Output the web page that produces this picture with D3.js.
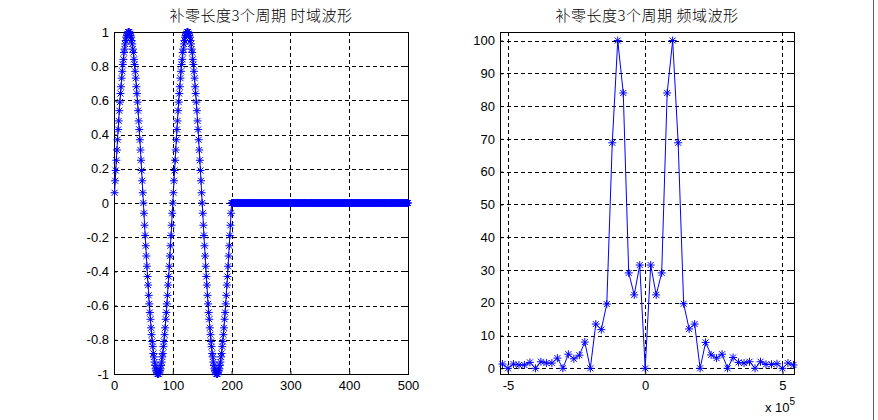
<!DOCTYPE html>
<html><head><meta charset="utf-8">
<script src="https://cdn.jsdelivr.net/npm/d3@7"></script>
<style>
html,body{margin:0;padding:0;background:#fff;}
svg{display:block;}
text{font-family:"Liberation Sans",Arial,sans-serif;font-size:13px;fill:#000;}
.title{font-family:"Noto Sans CJK SC",sans-serif;font-size:15px;letter-spacing:0.5px;font-weight:300;}
</style></head>
<body>
<script>
// ---------- data ----------
const titleLeft = "补零长度3个周期 时域波形";
const titleRight = "补零长度3个周期 频域波形";

// time-domain samples n = 1..500
const timeIndex = d3.range(1, 501);
const timeValues = [
 0.06,0.13,0.19,0.25,0.31,0.37,0.43,0.48,0.54,0.59,0.64,0.68,0.73,0.77,0.81,0.84,0.88,0.90,0.93,0.95,0.97,0.98,0.99,1.00,1.00,
 1.00,0.99,0.98,0.97,0.95,0.93,0.90,0.88,0.84,0.81,0.77,0.73,0.68,0.64,0.59,0.54,0.48,0.43,0.37,0.31,0.25,0.19,0.13,0.06,0,
 -0.06,-0.13,-0.19,-0.25,-0.31,-0.37,-0.43,-0.48,-0.54,-0.59,-0.64,-0.68,-0.73,-0.77,-0.81,-0.84,-0.88,-0.90,-0.93,-0.95,-0.97,-0.98,-0.99,-1.00,-1.00,
 -1.00,-0.99,-0.98,-0.97,-0.95,-0.93,-0.90,-0.88,-0.84,-0.81,-0.77,-0.73,-0.68,-0.64,-0.59,-0.54,-0.48,-0.43,-0.37,-0.31,-0.25,-0.19,-0.13,-0.06,0,
 0.06,0.13,0.19,0.25,0.31,0.37,0.43,0.48,0.54,0.59,0.64,0.68,0.73,0.77,0.81,0.84,0.88,0.90,0.93,0.95,0.97,0.98,0.99,1.00,1.00,
 1.00,0.99,0.98,0.97,0.95,0.93,0.90,0.88,0.84,0.81,0.77,0.73,0.68,0.64,0.59,0.54,0.48,0.43,0.37,0.31,0.25,0.19,0.13,0.06,0,
 -0.06,-0.13,-0.19,-0.25,-0.31,-0.37,-0.43,-0.48,-0.54,-0.59,-0.64,-0.68,-0.73,-0.77,-0.81,-0.84,-0.88,-0.90,-0.93,-0.95,-0.97,-0.98,-0.99,-1.00,-1.00,
 -1.00,-0.99,-0.98,-0.97,-0.95,-0.93,-0.90,-0.88,-0.84,-0.81,-0.77,-0.73,-0.68,-0.64,-0.59,-0.54,-0.48,-0.43,-0.37,-0.31,-0.25,-0.19,-0.13,-0.06,0,
 0,0,0,0,0,0,0,0,0,0,0,0,0,0,0,0,0,0,0,0,0,0,0,0,0,0,0,0,0,0,
 0,0,0,0,0,0,0,0,0,0,0,0,0,0,0,0,0,0,0,0,0,0,0,0,0,0,0,0,0,0,
 0,0,0,0,0,0,0,0,0,0,0,0,0,0,0,0,0,0,0,0,0,0,0,0,0,0,0,0,0,0,
 0,0,0,0,0,0,0,0,0,0,0,0,0,0,0,0,0,0,0,0,0,0,0,0,0,0,0,0,0,0,
 0,0,0,0,0,0,0,0,0,0,0,0,0,0,0,0,0,0,0,0,0,0,0,0,0,0,0,0,0,0,
 0,0,0,0,0,0,0,0,0,0,0,0,0,0,0,0,0,0,0,0,0,0,0,0,0,0,0,0,0,0,
 0,0,0,0,0,0,0,0,0,0,0,0,0,0,0,0,0,0,0,0,0,0,0,0,0,0,0,0,0,0,
 0,0,0,0,0,0,0,0,0,0,0,0,0,0,0,0,0,0,0,0,0,0,0,0,0,0,0,0,0,0,
 0,0,0,0,0,0,0,0,0,0,0,0,0,0,0,0,0,0,0,0,0,0,0,0,0,0,0,0,0,0,
 0,0,0,0,0,0,0,0,0,0,0,0,0,0,0,0,0,0,0,0,0,0,0,0,0,0,0,0,0,0
];
const timeXTicks = [0, 100, 200, 300, 400, 500];
const timeYTicks = [-1, -0.8, -0.6, -0.4, -0.2, 0, 0.2, 0.4, 0.6, 0.8, 1];

// frequency axis in units of 1e5 Hz
const freqValues = [
 -5.2,-5.0,-4.8,-4.6,-4.4,-4.2,-4.0,-3.8,-3.6,-3.4,-3.2,-3.0,-2.8,-2.6,-2.4,-2.2,-2.0,-1.8,-1.6,-1.4,-1.2,-1.0,-0.8,-0.6,-0.4,-0.2,
 0,
 0.2,0.4,0.6,0.8,1.0,1.2,1.4,1.6,1.8,2.0,2.2,2.4,2.6,2.8,3.0,3.2,3.4,3.6,3.8,4.0,4.2,4.4,4.6,4.8,5.0,5.2,5.4
];
const magValues = [
 1.3,0,1.3,1.0,1.0,1.8,0,2.0,1.6,1.6,3.1,0,4.3,2.9,4.0,8.0,0,13.5,11.8,19.6,68.8,100,84.0,29.1,22.4,31.5,
 0,
 31.5,22.4,29.1,84.0,100,68.8,19.7,12.0,13.5,0,7.9,4.1,3.1,4.3,0,3.3,1.8,1.6,2.0,0,2.0,1.2,1.2,1.4,0,1.6,1.0
];
const freqXTicks = [-5, 0, 5];
const freqYTicks = [0, 10, 20, 30, 40, 50, 60, 70, 80, 90, 100];

// ---------- drawing ----------
const W = 878, H = 420;
const svg = d3.select("body").append("svg").attr("width", W).attr("height", H);
svg.append("rect").attr("width", W).attr("height", H).attr("fill", "#fff");

const BLUE = "#0000ff";
const starPath = "M-4,0H4M0,-4V4M-3,-3L3,3M-3,3L3,-3";

function panel(cfg) {
  const g = svg.append("g");
  const x = d3.scaleLinear().domain(cfg.xDomain).range([cfg.left, cfg.right]);
  const y = d3.scaleLinear().domain(cfg.yDomain).range([cfg.bottom, cfg.top]);
  const crisp = v => Math.round(v) + 0.5;

  // grid
  const grid = g.append("g").attr("stroke", "#000").attr("stroke-width", 1).attr("stroke-dasharray", "4,3");
  cfg.xTicks.forEach(t => {
    const px = crisp(x(t));
    if (px > cfg.left + 1 && px < cfg.right - 1)
      grid.append("line").attr("x1", px).attr("x2", px).attr("y1", cfg.top).attr("y2", cfg.bottom);
  });
  cfg.yTicks.forEach(t => {
    const py = crisp(y(t));
    if (py > cfg.top + 1 && py < cfg.bottom - 1)
      grid.append("line").attr("y1", py).attr("y2", py).attr("x1", cfg.left).attr("x2", cfg.right);
  });

  // axes via d3 axis (ticks inward), plus box
  const xAxis = d3.axisBottom(x).tickValues(cfg.xTicks).tickSize(-3).tickPadding(10).tickFormat(cfg.xFmt);
  const yAxis = d3.axisLeft(y).tickValues(cfg.yTicks).tickSize(-3).tickPadding(5).tickFormat(cfg.yFmt);
  const xa = g.append("g").attr("transform", `translate(0,${crisp(cfg.bottom)-0.5})`).call(xAxis);
  const ya = g.append("g").attr("transform", `translate(${crisp(cfg.left)-0.5},0)`).call(yAxis);
  [xa, ya].forEach(a => {
    a.select(".domain").remove();
    a.selectAll("line").attr("stroke", "#000");
    a.selectAll("text").attr("fill", "#000").style("font-family", '"Liberation Sans",Arial,sans-serif').style("font-size", "13px");
  });
  xa.selectAll("text").attr("dy", "0.71em").attr("y", 7);
  // top/right inward ticks
  cfg.xTicks.forEach(t => g.append("line").attr("x1", crisp(x(t))).attr("x2", crisp(x(t)))
    .attr("y1", cfg.top).attr("y2", cfg.top + 3).attr("stroke", "#000"));
  cfg.yTicks.forEach(t => g.append("line").attr("y1", crisp(y(t))).attr("y2", crisp(y(t)))
    .attr("x1", cfg.right).attr("x2", cfg.right - 3).attr("stroke", "#000"));

  g.append("rect")
    .attr("x", crisp(cfg.left)).attr("y", crisp(cfg.top))
    .attr("width", Math.round(cfg.right) - Math.round(cfg.left))
    .attr("height", Math.round(cfg.bottom) - Math.round(cfg.top))
    .attr("fill", "none").attr("stroke", "#000");

  // data line
  const pts = cfg.xs.map((v, i) => [v, cfg.ys[i]]);
  g.append("path").datum(pts)
    .attr("d", d3.line().x(d => x(d[0])).y(d => y(d[1])))
    .attr("fill", "none").attr("stroke", BLUE).attr("stroke-width", 1);
  g.append("g").selectAll("path").data(pts).join("path")
    .attr("d", starPath)
    .attr("transform", d => `translate(${x(d[0]).toFixed(2)},${y(d[1]).toFixed(2)})`)
    .attr("fill", "none").attr("stroke", BLUE).attr("stroke-width", 1);

  // title
  g.append("text").attr("class", "title")
    .attr("x", (cfg.left + cfg.right) / 2).attr("y", 21)
    .attr("text-anchor", "middle").text(cfg.title);
  return { g, x, y };
}

panel({
  left: 114, right: 408, top: 32, bottom: 374,
  xDomain: [0, 500], yDomain: [-1, 1],
  xTicks: timeXTicks, yTicks: timeYTicks,
  xFmt: d => String(d), yFmt: d => String(Math.round(d * 10) / 10),
  xs: timeIndex, ys: timeValues, title: titleLeft
});

const right = panel({
  left: 500, right: 794, top: 32, bottom: 374,
  xDomain: [-5.29, 5.42], yDomain: [-1.74, 102.6],
  xTicks: freqXTicks, yTicks: freqYTicks,
  xFmt: d => String(d), yFmt: d => String(d),
  xs: freqValues, ys: magValues, title: titleRight
});

// exponent label "x 10^5"
const ex = right.g.append("text").attr("x", 765).attr("y", 412);
ex.append("tspan").text("x 10");
ex.append("tspan").attr("dy", -7).style("font-size", "10px").text("5");

// figure right border line
svg.append("line").attr("x1", 873.5).attr("x2", 873.5).attr("y1", 0).attr("y2", H)
  .attr("stroke", "#606060").attr("stroke-width", 1);
</script>
</body></html>
